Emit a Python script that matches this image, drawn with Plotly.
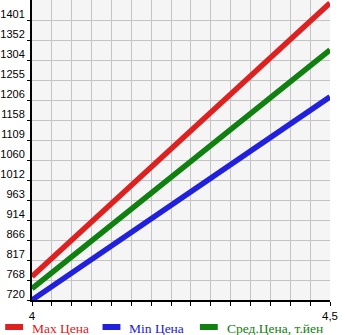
import plotly.graph_objects as go

x_vals = [4.0, 4.5]
max_price = [777, 1442]
min_price = [720, 1214]
avg_price = [748, 1328]
y_tick_labels = ["720", "768", "817", "866", "914", "963", "1012", "1060", "1109",
                 "1158", "1206", "1255", "1304", "1352", "1401"]
y_min = 720
y_step = 48.64
y_tick_vals = [y_min + i * y_step for i in range(len(y_tick_labels))]

series = [
    ("Max Цена", max_price, "#dd2020"),
    ("Min Цена", min_price, "#2020dd"),
    ("Сред.Цена, т.йен", avg_price, "#108010"),
]

L, R, T, B = 30, 15, 0, 35
W, H = 345, 335
pw, ph = W - L - R, H - T - B


def px_x(p):
    return (p - L) / pw


def px_y(p):
    return (H - B - p) / ph


fig = go.Figure()
for name, ys, col in series:
    fig.add_trace(go.Scatter(
        x=x_vals, y=ys, mode="lines",
        line=dict(color=col, width=5.5),
        name=name, showlegend=False,
    ))

# manual legend row
legend_x = [1, 99, 197]
shapes = []
annotations = []
for (name, ys, col), lx in zip(series, legend_x):
    shapes.append(dict(type="line", xref="paper", yref="paper",
                       x0=px_x(lx + 2), x1=px_x(lx + 20), y0=px_y(327), y1=px_y(327),
                       line=dict(color=col, width=6)))
    annotations.append(dict(xref="paper", yref="paper", x=px_x(lx + 27), y=px_y(328),
                            xanchor="left", yanchor="middle", showarrow=False,
                            text=name, font=dict(family="Liberation Serif", size=13.5, color=col)))

fig.update_layout(
    width=W, height=H,
    margin=dict(l=L, r=R, t=T, b=B),
    paper_bgcolor="white",
    plot_bgcolor="#f5f5f5",
    showlegend=False,
    shapes=shapes,
    annotations=annotations,
    font=dict(family="Liberation Sans", size=11, color="black"),
)
fig.update_xaxes(
    range=[4.0, 4.5],
    tickvals=[4.0 + i * 0.5 / 15 for i in range(16)],
    ticktext=["4"] + [""] * 14 + ["4,5"],
    showgrid=True, gridcolor="#c4c4c4", gridwidth=1,
    showline=True, linecolor="black", linewidth=2,
    ticks="outside", ticklen=4, tickcolor="black",
    ticklabelstandoff=0,
    zeroline=False, fixedrange=True,
    tickfont=dict(size=11.5),
)
fig.update_yaxes(
    range=[y_min, y_min + 15 * y_step],
    tickvals=y_tick_vals, ticktext=y_tick_labels,
    showgrid=True, gridcolor="#c4c4c4", gridwidth=1,
    showline=True, linecolor="black", linewidth=2,
    ticks="outside", ticklen=3, tickcolor="black",
    ticklabelshift=-6,
    zeroline=False, fixedrange=True,
)
fig.write_html("out.html", config={"displayModeBar": False})
